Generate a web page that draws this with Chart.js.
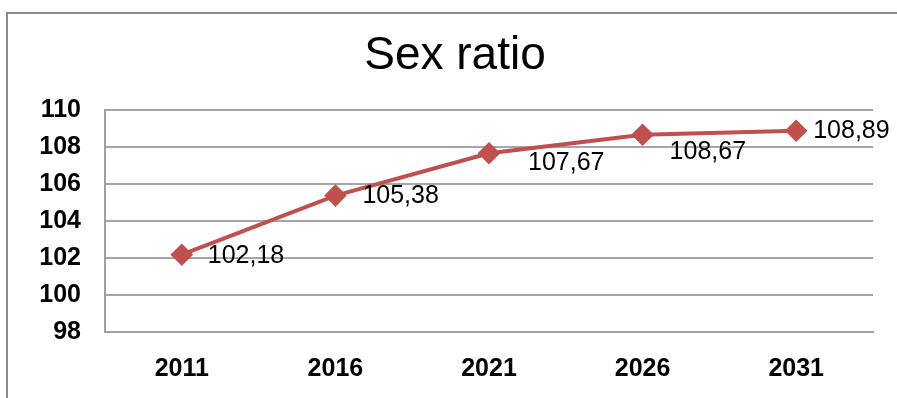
<!DOCTYPE html>
<html>
<head>
<meta charset="utf-8">
<script src="https://cdn.jsdelivr.net/npm/chart.js@4"></script>
<style>
    html, body { margin: 0; padding: 0; background: #ffffff; overflow: hidden; }
    #wrap { position: relative; width: 897px; height: 398px; }
    #frame
    {
        position: absolute; left: 6px; top: 12px; width: 1000px; height: 500px;
        border-left: 2px solid #8c8c8c; border-top: 2px solid #8c8c8c;
        pointer-events: none;
    }
</style>
</head>
<body>
<div id="wrap">
    <canvas id="sex_ratio_chart" width="897" height="398"></canvas>
    <div id="frame"></div>
</div>
<script>
const sex_ratio_years = ["2011", "2016", "2021", "2026", "2031"];
const sex_ratio_values = [102.18, 105.38, 107.67, 108.67, 108.89];
const sex_ratio_labels = ["102,18", "105,38", "107,67", "108,67", "108,89"];
const y_ticks = [98, 100, 102, 104, 106, 108, 110];

// value labels, offset from each marker like in the original
const value_labels_plugin =
{
    id: "value_labels",
    afterDatasetsDraw(chart, args, options)
    {
        const ctx = chart.ctx;
        const meta = chart.getDatasetMeta(0);
        ctx.save();
        ctx.font = "25px 'Liberation Sans', Arial, sans-serif";
        ctx.fillStyle = "#000000";
        ctx.textAlign = "left";
        ctx.textBaseline = "middle";
        meta.data.forEach((point, i) =>
        {
            const off = options.offsets[i];
            ctx.fillText(sex_ratio_labels[i], point.x + off[0], point.y + off[1]);
        });
        ctx.restore();
    }
};

const sex_ratio_chart = new Chart("sex_ratio_chart",
{
    type: "line",
    data:
    {
        labels: sex_ratio_years,
        datasets:
        [
            {
                label: "Sex ratio",
                data: sex_ratio_values,
                fill: false,
                borderColor: "#c0504d",
                backgroundColor: "#c0504d",
                borderWidth: 4,
                pointStyle: "rectRot",
                pointRadius: 8.5,
                pointHoverRadius: 8.5,
                tension: 0
            }
        ]
    },
    plugins: [value_labels_plugin],
    options:
    {
        responsive: false,
        animation: false,
        layout:
        {
            padding: { left: 13, right: 0, top: 0, bottom: 0 }
        },
        plugins:
        {
            legend: { display: false },
            tooltip: { enabled: false },
            title:
            {
                display: true,
                text: "Sex ratio",
                color: "#000000",
                font: { family: "'Liberation Sans', Arial, sans-serif", size: 46, weight: "normal", lineHeight: 1.2 },
                padding: { top: 29, bottom: 26 }
            },
            value_labels:
            {
                offsets: [[26, 1], [27, 1], [39, 10], [27, 17], [17, 0]]
            }
        },
        scales:
        {
            x:
            {
                offset: true,
                grid: { display: false, drawTicks: false },
                border: { display: true, color: "#a0a0a0", width: 2 },
                ticks:
                {
                    color: "#000000",
                    padding: 22,
                    font: { family: "'Liberation Sans', Arial, sans-serif", size: 25, weight: "bold" }
                },
                afterFit(scale) { scale.height = 66; }
            },
            y:
            {
                min: 98,
                max: 110,
                afterBuildTicks(scale) { scale.ticks = y_ticks.map(v => ({ value: v })); },
                grid: { color: "#a6a6a6", lineWidth: 2, drawTicks: false },
                border: { display: true, color: "#a0a0a0", width: 2 },
                ticks:
                {
                    color: "#000000",
                    padding: 24,
                    font: { family: "'Liberation Sans', Arial, sans-serif", size: 25, weight: "bold" }
                },
                afterFit(scale) { scale.width = 92; }
            },
            // empty right-hand axis that only keeps a margin beside the plot
            spacer:
            {
                type: "linear",
                position: "right",
                display: true,
                grid: { display: false, drawTicks: false },
                border: { display: false },
                ticks: { display: false },
                afterFit(scale) { scale.width = 24; }
            }
        }
    }
});
</script>
</body>
</html>
